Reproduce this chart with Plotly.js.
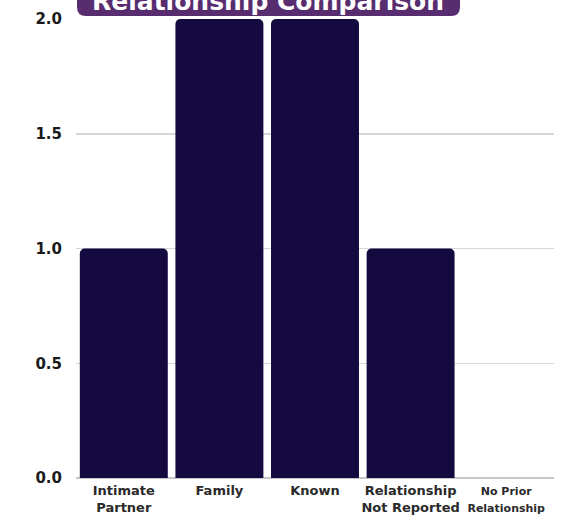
<!DOCTYPE html>
<html><head><meta charset="utf-8">
<script src="https://cdn.plot.ly/plotly-3.0.1.min.js"></script>
<style>html,body{margin:0;padding:0;background:#fff;}#chart{width:566px;height:516px;}</style>
</head><body><div id="chart"></div>
<script>
const categories = ["Intimate Partner", "Family", "Known", "Relationship Not Reported", "No Prior Relationship"];
const tickLabels = ["Intimate<br>Partner", "Family", "Known", "Relationship<br>Not Reported", "<span style=\"font-size:11px\">No Prior<br>Relationship</span>"];
const counts = [1, 2, 2, 1, 0];
const yTicks = [0, 0.5, 1, 1.5, 2];
const yTickText = ["0.0", "0.5", "1.0", "1.5", "2.0"];
const titleText = "Relationship Comparison";

const W = 566, H = 516, L = 76, R = 12, T = 19, B = 38;
const pw = W - L - R, ph = H - T - B;
const px = x => (x - L) / pw;
const py = y => (H - B - y) / ph;

// rounded title box (bottom corners rounded)
const bx0 = 77, bx1 = 460, by0 = -20, by1 = 16, r = 9;
const boxPath = `M${px(bx0)},${py(by0)} L${px(bx0)},${py(by1 - r)} Q${px(bx0)},${py(by1)} ${px(bx0 + r)},${py(by1)} L${px(bx1 - r)},${py(by1)} Q${px(bx1)},${py(by1)} ${px(bx1)},${py(by1 - r)} L${px(bx1)},${py(by0)} Z`;

const data = [{
  type: "bar",
  x: categories,
  y: counts,
  marker: { color: "#150a40", line: { width: 0 } },
  hoverinfo: "x+y"
}];

const FONT = "'DejaVu Sans', Verdana, sans-serif";

const layout = {
  width: W, height: H,
  margin: { l: L, r: R, t: T, b: B, pad: 0 },
  paper_bgcolor: "#ffffff",
  plot_bgcolor: "#ffffff",
  showlegend: false,
  bargap: 0.08,
  barcornerradius: 5,
  font: { family: FONT, color: "#222" },
  xaxis: {
    type: "category",
    tickmode: "array",
    tickvals: categories,
    ticktext: tickLabels,
    tickfont: { family: FONT, size: 13, color: "#2a2a2a", weight: "bold" },
    showgrid: false,
    showline: false,
    zeroline: false,
    ticks: "",
    ticklabelstandoff: 3,
    fixedrange: true
  },
  yaxis: {
    range: [0, 2],
    tickmode: "array",
    tickvals: yTicks,
    ticktext: yTickText,
    tickfont: { family: FONT, size: 15, color: "#1a1a1a", weight: "bold" },
    showgrid: true,
    gridcolor: "#d6d6d6",
    gridwidth: 1.5,
    zeroline: true,
    zerolinecolor: "#c8c8c8",
    zerolinewidth: 1.5,
    showline: false,
    ticks: "",
    ticklabelstandoff: 13,
    fixedrange: true
  },
  shapes: [{
    type: "path", xref: "paper", yref: "paper",
    path: boxPath,
    fillcolor: "#582d70", line: { width: 0 }, layer: "above"
  }],
  annotations: [{
    xref: "paper", yref: "paper",
    x: px(268), y: py(18),
    xanchor: "center", yanchor: "bottom",
    text: titleText,
    showarrow: false,
    font: { family: FONT, size: 25, color: "#ffffff", weight: "bold" }
  }]
};

Plotly.newPlot("chart", data, layout, { displayModeBar: false, staticPlot: true });
</script>
</body></html>
